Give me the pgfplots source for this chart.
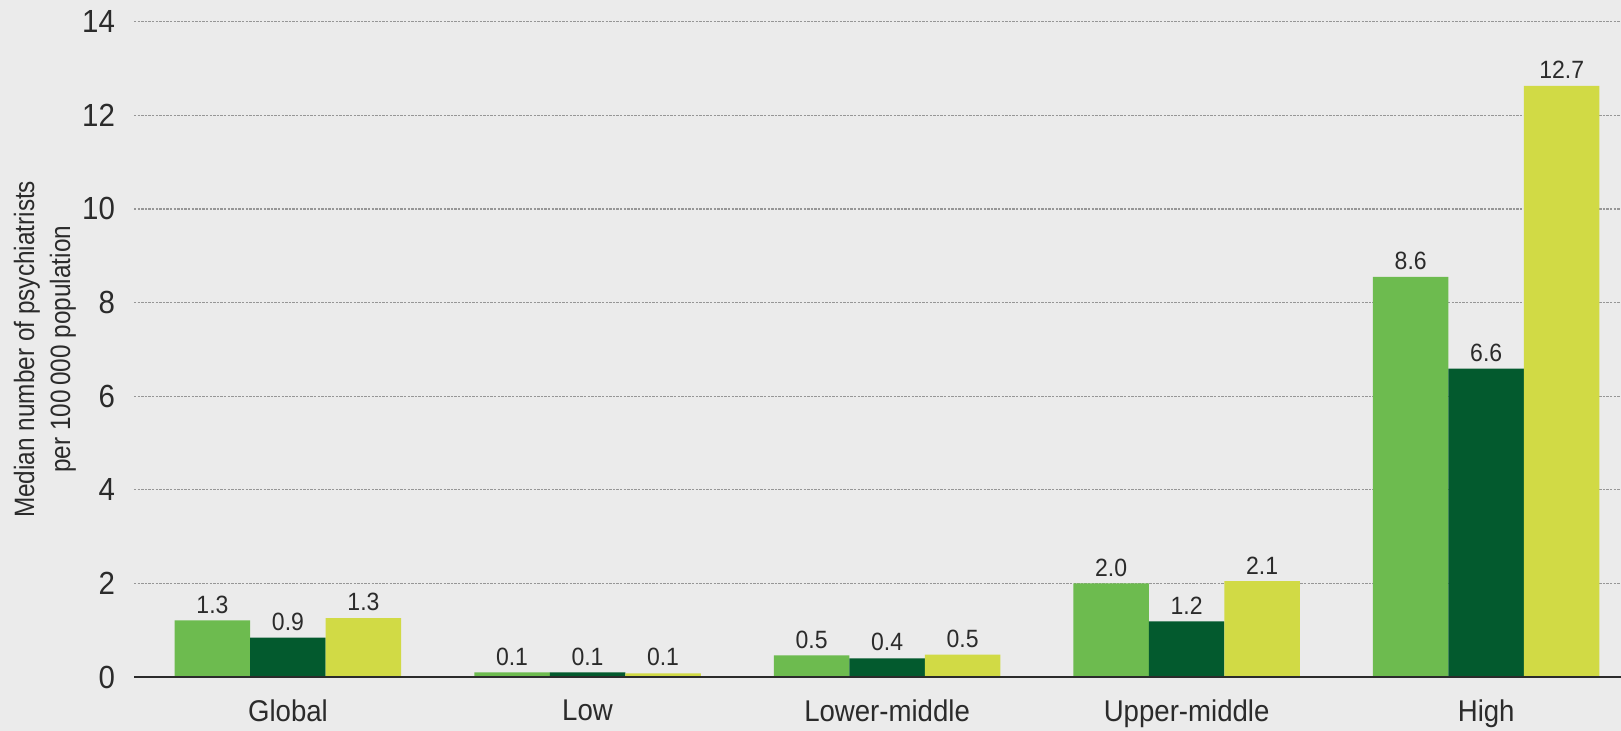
\documentclass[border=0pt]{standalone}
\usepackage{pgfplots}
\pgfplotsset{compat=1.18}
\usepackage{fontspec}
\setmainfont[FakeStretch=0.92]{Liberation Sans}
\newfontfamily\labelfont[FakeStretch=0.87]{Liberation Sans}
\definecolor{BgGrey}{RGB}{235,235,235}
\definecolor{LightGreen}{RGB}{109,187,79}
\definecolor{DarkGreen}{RGB}{3,90,46}
\definecolor{YellowGreen}{RGB}{209,218,69}
\definecolor{TextGrey}{RGB}{43,43,43}
\definecolor{GridGrey}{RGB}{150,150,150}

\begin{document}
\begin{tikzpicture}
% background, 1 px = 0.5 bp
\fill[BgGrey] (-67bp,-27bp) rectangle (743.5bp,338.5bp);

\begin{axis}[
at={(0,0)}, anchor=south west,
scale only axis,
width=743.5bp,
height=327.65bp,
ybar=0pt,
bar width=0.252,
xmin=-0.514, xmax=4.45,
ymin=0, ymax=14,
xtick={0,1,2,3,4},
xticklabels={Global,Low,Lower-middle,Upper-middle,High},
ytick={0,2,4,6,8,10,12,14},
axis line style={draw=none},
major tick length=0pt,
ymajorgrids,
grid style={GridGrey, line width=0.6bp, dash pattern=on 1.2bp off 0.6bp},
/pgf/number format/assume math mode=true,
yticklabel style={font=\fontsize{16bp}{18bp}\selectfont, text=TextGrey, xshift=-6bp},
xticklabel style={font=\fontsize{15bp}{18bp}\selectfont, text=TextGrey, yshift=-8bp},
ylabel={Median number of psychiatrists\\per 100\,000 population},
ylabel style={font=\labelfont\fontsize{14bp}{18bp}\selectfont, text=TextGrey, align=center,
  at={(axis description cs:-0.0599,0.5)}, anchor=center},
point meta=explicit symbolic,
nodes near coords,
nodes near coords style={font=\fontsize{12.5bp}{14bp}\selectfont, text=TextGrey, anchor=south},
]

\addplot[fill=LightGreen, draw=none] coordinates {
(0,1.21) [1.3] (1,0.10) [0.1] (2,0.46) [0.5] (3,2.00) [2.0] (4,8.55) [8.6]};

\addplot[fill=DarkGreen, draw=none] coordinates {
(0,0.84) [0.9] (1,0.10) [0.1] (2,0.40) [0.4] (3,1.19) [1.2] (4,6.59) [6.6]};

\addplot[fill=YellowGreen, draw=none] coordinates {
(0,1.26) [1.3] (1,0.08) [0.1] (2,0.48) [0.5] (3,2.05) [2.1] (4,12.63) [12.7]};

\draw[TextGrey, line width=1.3bp] (rel axis cs:0,0) -- (rel axis cs:1,0);

\end{axis}
\pgfresetboundingbox
\path (-67bp,-27bp) rectangle (743.5bp,338.5bp);
\end{tikzpicture}
\end{document}
